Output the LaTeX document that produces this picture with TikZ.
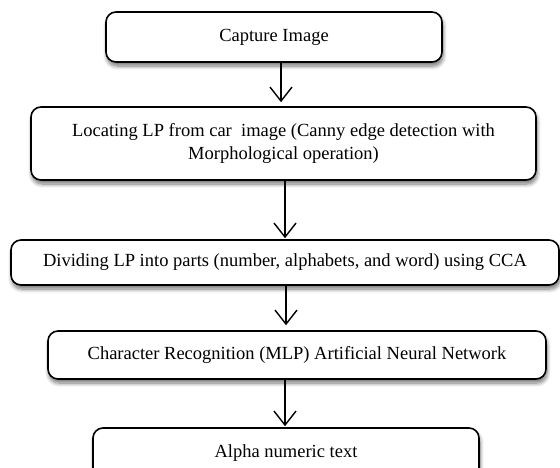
\documentclass[tikz,border=0pt]{standalone}
\usepackage{fontspec}
\setmainfont{Liberation Serif}
\usetikzlibrary{arrows.meta,shadows.blur}
\begin{document}
\begin{tikzpicture}[x=1pt,y=1pt,
  box/.style={draw=black, line width=1.6pt, rounded corners=10pt, fill=white,
    align=center, inner sep=0pt,
    font=\fontsize{18.5}{23}\selectfont,
    blur shadow={shadow xshift=1pt, shadow yshift=-4pt, shadow blur steps=8, shadow opacity=55, shadow blur radius=4pt}},
  arr/.style={line width=1.4pt, -{Straight Barb[length=14pt,width=22pt,line width=1.4pt]}}
]
\useasboundingbox (0,0) rectangle (560,-467);
\begin{scope}
\clip (0,0) rectangle (560,-467);
\node[box, minimum width=336pt, minimum height=50pt] (b1) at (274,-37) {Capture Image};
\node[box, minimum width=505pt, minimum height=73pt] (b2) at (283.5,-143.5)
  {Locating LP from car\ \ image (Canny edge detection with\\Morphological operation)};
\node[box, minimum width=548pt, minimum height=45pt] (b3) at (285,-262.5)
  {Dividing LP into parts (number, alphabets, and word) using CCA};
\node[box, minimum width=498pt, minimum height=48pt] (b4) at (297,-355)
  {Character Recognition (MLP) Artificial Neural Network};
\node[box, minimum width=386pt, minimum height=50pt] (b5) at (286,-453)
  {Alpha numeric text};
\end{scope}
\coordinate (x1) at (281,0);
\coordinate (x2) at (285,0);
\coordinate (x3) at (286,0);
\coordinate (x4) at (285,0);
\draw[arr] (b1.south -| x1) -- ([yshift=4pt]b2.north -| x1);
\draw[arr] (b2.south -| x2) -- ([yshift=1pt]b3.north -| x2);
\draw[arr] (b3.south -| x3) -- ([yshift=5pt]b4.north -| x3);
\draw[arr] (b4.south -| x4) -- ([yshift=1pt]b5.north -| x4);
\end{tikzpicture}
\end{document}
